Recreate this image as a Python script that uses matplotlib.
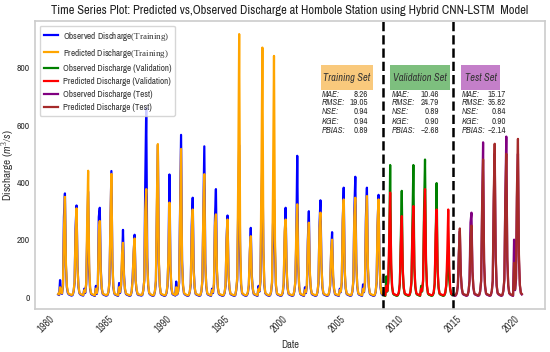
import matplotlib
matplotlib.use('Agg')
import matplotlib.pyplot as plt
from matplotlib.patches import Rectangle
import pandas as pd

plt.rcParams['font.family'] = ['Archivo Narrow', 'DejaVu Sans']
plt.rcParams['mathtext.fontset'] = 'custom'
plt.rcParams['mathtext.rm'] = 'Liberation Serif'
plt.rcParams['mathtext.it'] = 'Archivo Narrow:italic'

# monthly discharge (m3/s), Jan..Dec per row
obs_train = [
    10, 8, 60, 15, 12, 40, 280, 362, 110, 35, 15, 10,   # 1981
    9, 7, 6, 8, 20, 50, 240, 320, 110, 35, 14, 10,      # 1982
    8, 7, 6, 30, 15, 45, 200, 368, 90, 30, 12, 9,       # 1983
    8, 6, 5, 40, 12, 35, 280, 312, 100, 30, 12, 9,      # 1984
    8, 6, 6, 8, 18, 50, 250, 440, 120, 35, 13, 9,       # 1985
    8, 6, 5, 50, 15, 40, 120, 235, 80, 28, 12, 9,       # 1986
    8, 6, 5, 7, 20, 70, 150, 218, 60, 25, 11, 8,        # 1987
    8, 7, 6, 8, 25, 60, 400, 660, 140, 40, 14, 10,      # 1988
    8, 6, 5, 7, 20, 55, 300, 530, 120, 38, 13, 9,       # 1989
    8, 6, 5, 7, 15, 40, 143, 428, 100, 32, 12, 9,       # 1990
    8, 6, 55, 10, 20, 50, 300, 566, 130, 40, 14, 10,    # 1991
    8, 6, 5, 7, 18, 45, 250, 347, 100, 33, 12, 9,       # 1992
    8, 6, 5, 7, 20, 55, 300, 526, 120, 38, 13, 9,       # 1993
    8, 6, 5, 30, 15, 45, 270, 377, 90, 32, 12, 9,       # 1994
    8, 6, 5, 7, 15, 40, 200, 285, 80, 30, 12, 9,        # 1995
    8, 6, 5, 7, 25, 60, 300, 530, 150, 42, 14, 10,      # 1996
    8, 6, 5, 7, 15, 40, 150, 242, 80, 30, 12, 9,        # 1997
    8, 6, 5, 40, 20, 55, 320, 482, 160, 42, 14, 10,     # 1998
    8, 6, 5, 7, 18, 50, 250, 341, 161, 40, 13, 9,       # 1999
    8, 6, 5, 7, 15, 45, 200, 312, 90, 32, 12, 9,        # 2000
    8, 6, 5, 7, 20, 50, 189, 493, 110, 35, 13, 9,       # 2001
    8, 6, 5, 35, 15, 40, 200, 300, 80, 30, 12, 9,       # 2002
    8, 6, 5, 7, 18, 50, 250, 338, 120, 35, 13, 9,       # 2003
    8, 6, 5, 7, 15, 40, 150, 227, 70, 28, 11, 8,        # 2004
    8, 6, 5, 30, 18, 50, 260, 382, 90, 32, 12, 9,       # 2005
    8, 6, 5, 7, 20, 55, 300, 420, 120, 38, 13, 9,       # 2006
    8, 6, 5, 45, 18, 50, 280, 382, 100, 35, 13, 9,      # 2007
    8, 6, 5, 7, 18, 50, 250, 357, 110, 35, 13, 9,       # 2008
]
pred_train = [
    12, 10, 35, 18, 14, 45, 230, 350, 120, 40, 18, 12,  # 1981
    11, 9, 8, 10, 22, 55, 220, 310, 100, 40, 16, 12,    # 1982
    10, 9, 8, 25, 18, 50, 260, 441, 120, 35, 15, 11,    # 1983
    10, 8, 7, 30, 15, 40, 230, 266, 90, 35, 14, 11,     # 1984
    10, 8, 8, 10, 20, 55, 260, 430, 130, 40, 15, 11,    # 1985
    10, 8, 7, 35, 18, 45, 150, 190, 70, 32, 14, 11,     # 1986
    10, 8, 7, 9, 22, 60, 160, 205, 60, 30, 13, 10,      # 1987
    10, 9, 8, 10, 25, 60, 300, 377, 120, 45, 16, 12,    # 1988
    10, 8, 7, 9, 22, 60, 340, 534, 130, 42, 15, 11,     # 1989
    10, 8, 7, 9, 18, 45, 150, 330, 110, 36, 14, 11,     # 1990
    10, 8, 35, 12, 22, 55, 280, 517, 120, 44, 16, 12,   # 1991
    10, 8, 7, 9, 20, 50, 220, 306, 90, 37, 14, 11,      # 1992
    10, 8, 7, 9, 22, 60, 300, 429, 110, 42, 15, 11,     # 1993
    10, 8, 7, 25, 18, 50, 250, 289, 100, 36, 14, 11,    # 1994
    10, 8, 7, 9, 18, 45, 200, 271, 80, 34, 14, 11,      # 1995
    10, 8, 7, 9, 28, 70, 400, 917, 200, 48, 16, 12,     # 1996
    10, 8, 7, 9, 18, 45, 160, 213, 70, 34, 14, 11,      # 1997
    10, 8, 7, 30, 22, 60, 420, 870, 180, 48, 16, 12,    # 1998
    10, 8, 7, 9, 20, 55, 380, 841, 200, 45, 15, 11,     # 1999
    10, 8, 7, 9, 18, 50, 230, 271, 100, 36, 14, 11,     # 2000
    10, 8, 7, 9, 22, 55, 220, 324, 120, 40, 15, 11,     # 2001
    10, 8, 7, 25, 18, 45, 190, 260, 90, 34, 14, 11,     # 2002
    10, 8, 7, 9, 20, 55, 240, 295, 110, 40, 15, 11,     # 2003
    10, 8, 7, 9, 18, 45, 160, 201, 80, 32, 13, 10,      # 2004
    10, 8, 7, 25, 20, 55, 270, 341, 100, 36, 14, 11,    # 2005
    10, 8, 7, 9, 22, 60, 280, 347, 110, 42, 15, 11,     # 2006
    10, 8, 7, 30, 20, 55, 260, 353, 110, 40, 15, 11,    # 2007
    10, 8, 7, 9, 20, 55, 260, 341, 120, 40, 15, 11,     # 2008
]
obs_val = [
    8, 6, 5, 73, 20, 50, 150, 461, 100, 35, 13, 9,      # 2009
    8, 6, 5, 7, 15, 45, 200, 371, 90, 32, 12, 9,        # 2010
    8, 6, 5, 7, 18, 50, 250, 461, 100, 35, 13, 9,       # 2011
    8, 6, 5, 40, 20, 55, 300, 480, 130, 38, 13, 9,      # 2012
    8, 6, 5, 7, 15, 45, 200, 398, 90, 32, 12, 9,        # 2013
    8, 6, 5, 7, 15, 40, 100, 175, 60, 28, 11, 8,        # 2014
]
pred_val = [
    10, 8, 7, 40, 22, 55, 200, 365, 120, 40, 15, 11,    # 2009
    10, 8, 7, 9, 18, 50, 180, 283, 100, 36, 14, 11,     # 2010
    10, 8, 7, 9, 20, 55, 220, 318, 110, 40, 15, 11,     # 2011
    10, 8, 7, 30, 22, 60, 260, 377, 120, 42, 15, 11,    # 2012
    10, 8, 7, 9, 18, 50, 220, 306, 100, 36, 14, 11,     # 2013
    10, 8, 7, 9, 18, 45, 150, 306, 110, 32, 13, 10,     # 2014
]
obs_test = [
    8, 6, 5, 7, 15, 40, 150, 230, 80, 30, 12, 9,        # 2015
    8, 6, 5, 7, 20, 60, 260, 295, 90, 32, 12, 9,        # 2016
    8, 6, 5, 7, 20, 55, 300, 540, 120, 38, 13, 9,       # 2017
    8, 6, 5, 7, 20, 55, 320, 500, 140, 40, 14, 10,      # 2018
    8, 6, 5, 7, 22, 60, 350, 560, 130, 40, 14, 10,      # 2019
    8, 6, 5, 201, 25, 60, 350, 500, 130, 40, 14, 10,    # 2020
]
pred_test = [
    10, 8, 7, 9, 18, 45, 160, 240, 80, 34, 14, 11,      # 2015
    10, 8, 7, 9, 22, 55, 200, 250, 90, 36, 14, 11,      # 2016
    10, 8, 7, 9, 22, 60, 320, 480, 130, 42, 15, 11,     # 2017
    10, 8, 7, 9, 22, 60, 350, 535, 150, 44, 16, 12,     # 2018
    10, 8, 7, 9, 24, 65, 330, 500, 140, 44, 16, 12,     # 2019
    10, 8, 7, 120, 28, 65, 380, 552, 150, 44, 16, 12,   # 2020
]

dates_train = pd.date_range('1981-01-01', periods=len(obs_train), freq='MS')
dates_val = pd.date_range('2009-01-01', periods=len(obs_val), freq='MS')
dates_test = pd.date_range('2015-01-01', periods=len(obs_test), freq='MS')

set_names = ['Training Set', 'Validation Set', 'Test Set']
metric_names = ['MAE:', 'RMSE:', 'NSE:', 'KGE:', 'PBIAS:']
metric_values = [
    ['8.26', '19.05', '0.94', '0.94', '0.89'],
    ['10.46', '24.79', '0.89', '0.90', '\u22122.68'],
    ['15.17', '35.82', '0.84', '0.90', '\u22122.14'],
]

fig = plt.figure(figsize=(5.5, 3.52), dpi=100)
ax = fig.add_axes([35/550, 43/352, 510/550, 288/352])

ax.plot(dates_train, obs_train, color='blue', lw=1.6, label='Observed Discharge$\\mathrm{(Training)}$')
ax.plot(dates_train, pred_train, color='orange', lw=1.6, label='Predicted Discharge$\\mathrm{(Training)}$')
ax.plot(dates_val, obs_val, color='green', lw=1.6, label='Observed Discharge (Validation)')
ax.plot(dates_val, pred_val, color='red', lw=1.6, label='Predicted Discharge (Validation)')
ax.plot(dates_test, obs_test, color='purple', lw=1.6, label='Observed Discharge (Test)')
ax.plot(dates_test, pred_test, color='brown', lw=1.6, label='Predicted Discharge (Test)')

ax.axvline(pd.Timestamp('2009-01-01'), color='black', ls='--', lw=1.8)
ax.axvline(pd.Timestamp('2015-01-01'), color='black', ls='--', lw=1.8)

# set labels and metrics
box_x = [0.560, 0.697, 0.835]
box_w = [0.103, 0.117, 0.077]
box_c = ['#f9c97c', '#7dbf7e', '#c47fc9']
val_right = [0.653, 0.792, 0.924]
line_y = [0.745, 0.718, 0.685, 0.652, 0.620]
for i in range(3):
    ax.add_patch(Rectangle((box_x[i], 0.760), box_w[i], 0.087, transform=ax.transAxes,
                           facecolor=box_c[i], edgecolor='none', zorder=3))
    ax.text(box_x[i] + box_w[i]/2, 0.803, set_names[i], transform=ax.transAxes,
            ha='center', va='center', fontsize=7.5, style='italic', color='#333333', zorder=4)
    for j in range(5):
        ax.text(box_x[i] + 0.002, line_y[j], metric_names[j], transform=ax.transAxes,
                ha='left', va='center', fontsize=6.4, style='italic', color='#333333')
        ax.text(val_right[i], line_y[j], metric_values[i][j], transform=ax.transAxes,
                ha='right', va='center', fontsize=6.4, color='#333333')

ax.set_title('Time Series Plot: Predicted vs,Observed Discharge at Hombole Station using Hybrid CNN-LSTM  Model',
             fontsize=9, color='#222222', pad=5)
ax.set_xlabel('Date', fontsize=7.5, color='#333333')
ax.set_ylabel('Discharge ($m^3/s$)', fontsize=8, color='#333333')
ax.yaxis.set_label_coords(-0.036, 0.5)
ax.set_yticks([0, 200, 400, 600, 800])
plt.setp(ax.get_xticklabels(), rotation=45)
ax.tick_params(length=0, labelsize=7, labelcolor='#333333')
ax.tick_params(axis='x', labelsize=7.5)
for s in ax.spines.values():
    s.set_color('#cccccc')
    s.set_linewidth(1.2)

leg = ax.legend(loc='upper left', fontsize=6.5, frameon=True, edgecolor='#cccccc',
                handlelength=1.6, handletextpad=0.5, labelspacing=0.45, borderpad=0.45)
for t in leg.get_texts():
    t.set_color('#333333')

fig.savefig('out.png', dpi=100)
